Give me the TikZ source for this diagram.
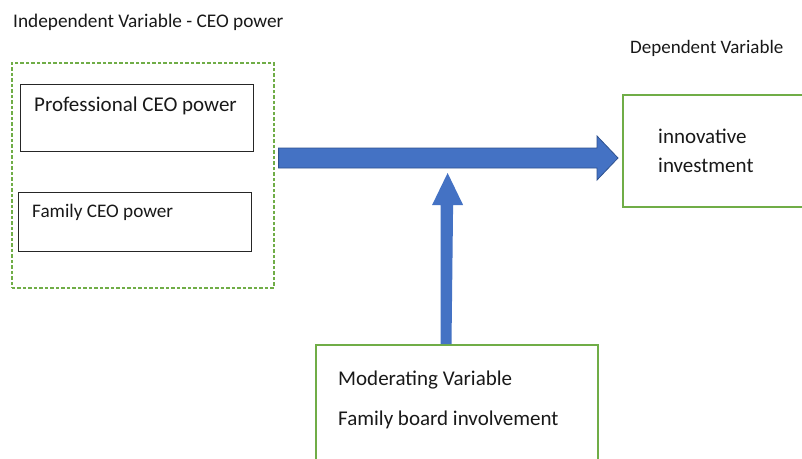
\documentclass[tikz,border=0pt]{standalone}
\usepackage{fontspec}
\setmainfont{Carlito}
\usetikzlibrary{calc}
\definecolor{arrowblue}{HTML}{4472C4}
\definecolor{arrowedge}{HTML}{2F528F}
\definecolor{boxgreen}{HTML}{70AD47}
\begin{document}
\begin{tikzpicture}[x=1pt,y=-1pt,
  lbl/.style={anchor=base west,inner sep=0pt,text=black!90},
  big/.style={font=\fontsize{21}{25}\selectfont},
  small/.style={font=\fontsize{19.2}{23}\selectfont},
  blackbox/.style={draw=black!85,line width=1.1pt,anchor=north west,inner sep=0pt},
  greenbox/.style={draw=boxgreen,line width=1.8pt,anchor=north west,inner sep=0pt},
  dashbox/.style={draw=boxgreen,line width=1.6pt,dash pattern=on 3.5pt off 2pt,anchor=north west,inner sep=0pt},
  fatarrow/.style={fill=arrowblue}]
\clip (0,0) rectangle (802,458);
\fill[white] (0,0) rectangle (802,458);
% boxes
\node[dashbox,minimum width=262pt,minimum height=225pt] (indep) at (11,62) {};
\node[blackbox,minimum width=233pt,minimum height=67pt] (prof) at (20,84) {};
\node[blackbox,minimum width=233pt,minimum height=59pt] (fam) at (18,192) {};
\node[greenbox,minimum width=180pt,minimum height=112pt] (dep) at (622,94) {};
\node[greenbox,minimum width=282pt,minimum height=130pt] (mod) at (315,344) {};
% texts
\node[lbl,font=\fontsize{19.3}{23}\selectfont] (t1) at (13,27) {Independent Variable - CEO power};
\node[lbl,font=\fontsize{19}{23}\selectfont] (t2) at (630,53) {Dependent Variable};
\node[lbl,big] (t3) at (34,111) {Professional CEO power};
\node[lbl,small] (t4) at (32,217) {Family CEO power};
\node[lbl,big] (t5) at (658,143) {innovative};
\node[lbl,big] (t6) at (658,172) {investment};
\node[lbl,big] (t7) at (338,385) {Moderating Variable};
\node[lbl,big] (t8) at (338,425) {Family board involvement};
% horizontal arrow (from independent box to dependent box)
\coordinate (hS) at ($(indep.north east)+(4,96)$);
\coordinate (hT) at ($(dep.north west)+(-4,64)$);
\draw[fatarrow,draw=arrowedge,line width=0.8pt]
  ($(hS)+(0,-10)$) -- ($(hT)+(-21,-10)$) -- ($(hT)+(-21,-22)$) -- (hT)
  -- ($(hT)+(-21,22)$) -- ($(hT)+(-21,10)$) -- ($(hS)+(0,10)$) -- cycle;
% vertical arrow (from moderating box up to horizontal arrow)
\coordinate (vS) at ($(mod.north west)+(131,0)$);
\coordinate (vT) at ($(hS)+(169,15)$);
\fill[fatarrow]
  ($(vS)+(-5.5,0)$) |- ($(vT)+(-5.5,32)$) -- ($(vT)+(-15.5,32)$) -- (vT)
  -- ($(vT)+(15.5,32)$) -- ($(vT)+(5.5,32)$) -- ($(vS)+(5.5,0)$) -- cycle;
\end{tikzpicture}
\end{document}
